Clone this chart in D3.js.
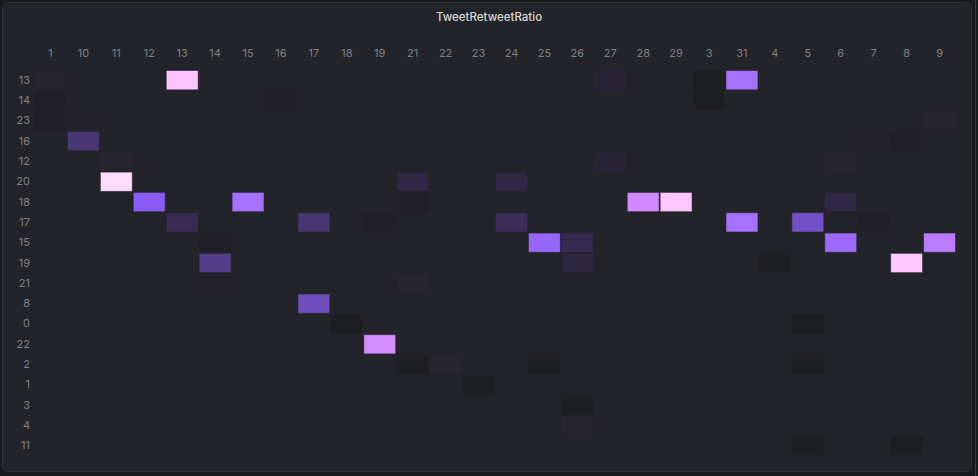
<!DOCTYPE html>
<html>
<head>
<meta charset="utf-8">
<script src="https://cdn.jsdelivr.net/npm/d3@7"></script>
<style>
  html, body { margin: 0; padding: 0; background: #18191d; }
  svg { display: block; }
  text { font-family: Inter, "Noto Sans", sans-serif; }
</style>
</head>
<body>
<svg id="chart" width="978" height="476"></svg>
<script>
const title = "TweetRetweetRatio";
const xLabels = ["1","10","11","12","13","14","15","16","17","18","19","21","22","23","24","25","26","27","28","29","3","31","4","5","6","7","8","9"];
const yLabels = ["13","14","23","16","12","20","18","17","15","19","21","8","0","22","2","1","3","4","11"];

// cells: row label, column label, value
const cellRows = ["13","13","13","13","13",
                  "14","14","14",
                  "23","23","23",
                  "16","16","16",
                  "12","12","12",
                  "20","20","20",
                  "18","18","18","18","18","18",
                  "17","17","17","17","17","17","17",
                  "15","15","15","15","15",
                  "19","19","19","19",
                  "21","21",
                  "8",
                  "0","0",
                  "22",
                  "2","2","2","2",
                  "1",
                  "3",
                  "4",
                  "11","11"];
const cellCols = ["1","13","27","3","31",
                  "1","16","3",
                  "1","10","9",
                  "10","7","8",
                  "11","27","6",
                  "11","21","24",
                  "12","15","21","28","29","6",
                  "13","17","19","24","31","5","7",
                  "14","25","26","6","9",
                  "14","26","4","8",
                  "14","21",
                  "17",
                  "18","5",
                  "19",
                  "21","22","25","5",
                  "23",
                  "26",
                  "26",
                  "5","8"];
const cellValues = [6,86,7,1,61,
                    2,2,1,
                    2,4,5,
                    25,4,2,
                    5,7,5,
                    98,12,12,
                    50,61,2,74,87,12,
                    17,25,2,20,61,40,2,
                    2,55,16,57,68,
                    30,10,1,88,
                    4,5,
                    38,
                    1,1,
                    75,
                    1,5,1,1,
                    1,
                    1,
                    5,
                    1,1];

const colorStops = [0, 1, 5, 10, 20, 30, 40, 50, 60, 70, 75, 86, 100];
const colorRange = ["#1c1d21","#1e1f23","#26242f","#2c2540","#3b2d5a","#54408a","#7351c9","#8a5cf5","#a36fff","#c07fff","#d48cff","#ffc4ff","#ffe0ff"];

const W = 978, H = 476;
const svg = d3.select("#chart");

// panel
svg.append("rect").attr("x", 0).attr("y", 0).attr("width", W).attr("height", H).attr("fill", "#18191d");
svg.append("rect").attr("x", 2.5).attr("y", 2.5).attr("width", 969).attr("height", 469)
  .attr("rx", 5).attr("fill", "#232429").attr("stroke", "#2e2f35").attr("stroke-width", 1);
svg.append("rect").attr("x", 975).attr("y", 0).attr("width", 1).attr("height", H).attr("fill", "#3a3b40");

svg.append("text").attr("x", 489).attr("y", 21).attr("text-anchor", "middle")
  .attr("fill", "#d8d9da").attr("font-size", 11.5).attr("font-weight", 500).text(title);

const x = d3.scaleBand().domain(xLabels).range([34, 956]).padding(0);
const y = d3.scaleBand().domain(yLabels).range([70, 456]).padding(0);
const color = d3.scaleLinear().domain(colorStops).range(colorRange).interpolate(d3.interpolateRgb).clamp(true);

const cells = cellValues.map((v, i) => ({row: cellRows[i], col: cellCols[i], value: v}));

svg.append("g").selectAll("rect").data(cells).join("rect")
  .attr("x", d => x(d.col) + 0.5)
  .attr("y", d => y(d.row) + 0.5)
  .attr("width", x.bandwidth() - 1)
  .attr("height", y.bandwidth() - 1)
  .attr("fill", d => color(d.value))
  .attr("stroke", "rgba(35,36,41,0.6)")
  .attr("stroke-width", 1);

const xAxis = svg.append("g").attr("transform", "translate(0,57)")
  .call(d3.axisTop(x).tickSize(0).tickPadding(0));
xAxis.select(".domain").remove();
xAxis.selectAll("text").attr("fill", "#7f8085").attr("font-size", 11).attr("font-family", "Inter, 'Noto Sans', sans-serif");

const yAxis = svg.append("g").attr("transform", "translate(30,0)")
  .call(d3.axisLeft(y).tickSize(0).tickPadding(0));
yAxis.select(".domain").remove();
yAxis.selectAll("text").attr("fill", "#7f8085").attr("font-size", 11).attr("font-family", "Inter, 'Noto Sans', sans-serif");
</script>
</body>
</html>
